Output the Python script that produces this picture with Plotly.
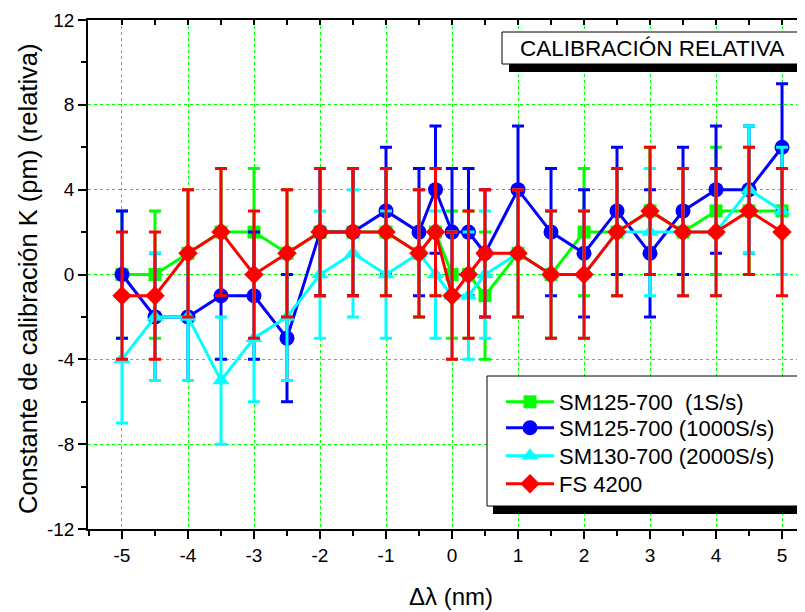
import plotly.graph_objects as go

# ---------------- data ----------------
dlambda = [-5, -4.5, -4, -3.5, -3, -2.5, -2, -1.5, -1, -0.5, -0.25, 0, 0.25, 0.5,
           1, 1.5, 2, 2.5, 3, 3.5, 4, 4.5, 5]

sm125_1 = [0, 0, 1, 2, 2, 1, 2, 2, 2, 1, 2, 0, 0, -1,
           1, 0, 2, 2, 3, 2, 3, 3, 3]
sm125_1000 = [0, -2, -2, -1, -1, -3, 2, 2, 3, 2, 4, 2, 2, 1,
              4, 2, 1, 3, 1, 3, 4, 4, 6]
sm130_2000 = [-4, -2, -2, -5, -3, -2, 0, 1, 0, 1, 0, -1, -1, 0,
              1, 0, 0, 2, 2, 2, 2, 4, 3]
fs4200 = [-1, -1, 1, 2, 0, 1, 2, 2, 2, 1, 2, -1, 0, 1,
          1, 0, 0, 2, 3, 2, 2, 3, 2]
err = 3

series_names = ["SM125-700  (1S/s)", "SM125-700 (1000S/s)",
                "SM130-700 (2000S/s)", "FS 4200"]
series_vals = [sm125_1, sm125_1000, sm130_2000, fs4200]
colors = ["#00FF00", "#0000FF", "#00FFFF", "#FF0000"]
symbols = ["square", "circle", "triangle-up", "diamond"]
msizes = [13, 15, 15, 15]

x_ticks = [-5, -4, -3, -2, -1, 0, 1, 2, 3, 4, 5]
y_ticks = [-12, -8, -4, 0, 4, 8, 12]

# ---------------- layout geometry (page pixels) ----------------
OFF = 8                      # default body margin of the html page
PAGE_W, PAGE_H = 805, 612
W, H = PAGE_W - OFF, PAGE_H - OFF
PL, PT, PB = 88, 20, 529     # plot area edges on the page
ML, MT = PL - OFF, PT - OFF
MB = H - (PB - OFF)
MR = 0
PW, PH = W - ML - MR, H - MT - MB
FONT = "Liberation Sans, Arial, sans-serif"


def px(xp):
    return (xp - PL) / PW


def py(yp):
    return (PB - yp) / PH


legend_ids = ["legend", "legend2", "legend3", "legend4"]
legend_y = [402, 428, 456, 484]

fig = go.Figure()
for name, vals, c, s, ms, lg in zip(series_names, series_vals, colors, symbols, msizes, legend_ids):
    fig.add_trace(go.Scatter(
        x=dlambda, y=vals, name=name, mode="lines+markers", legend=lg,
        line=dict(color=c, width=3),
        marker=dict(symbol=s, size=ms, color=c, line=dict(width=0)),
        error_y=dict(type="constant", value=err, color=c, thickness=3, width=6),
    ))

# invisible trace for the top axis
fig.add_trace(go.Scatter(x=[0], y=[0], xaxis="x2", mode="markers",
                         marker=dict(opacity=0), showlegend=False, hoverinfo="skip"))

xr = [-5.515, 5.348]

shapes = [
    dict(type="rect", xref="paper", yref="paper", x0=px(509), x1=px(812), y0=py(72), y1=py(40),
         fillcolor="black", line=dict(width=0), layer="above"),
    dict(type="rect", xref="paper", yref="paper", x0=px(502), x1=px(802), y0=py(64), y1=py(32),
         fillcolor="white", line=dict(color="black", width=1), layer="above"),
    dict(type="rect", xref="paper", yref="paper", x0=px(493), x1=px(830), y0=py(514), y1=py(384),
         fillcolor="black", line=dict(width=0), layer="above"),
    dict(type="rect", xref="paper", yref="paper", x0=px(487), x1=px(822), y0=py(506), y1=py(376),
         fillcolor="white", line=dict(color="black", width=1), layer="above"),
]

annotations = [
    dict(text="CALIBRACIÓN RELATIVA", xref="paper", yref="paper", x=px(652), y=py(48),
         showarrow=False, font=dict(family=FONT, size=22.5, color="black"),
         xanchor="center", yanchor="middle"),
    dict(text="Δλ (nm)", xref="paper", yref="paper", x=px(451), y=py(596),
         showarrow=False, font=dict(family=FONT, size=24, color="black"),
         xanchor="center", yanchor="middle"),
    dict(text="Constante de calibración K (pm) (relativa)", xref="paper", yref="paper",
         x=px(28), y=py(279), textangle=-90, showarrow=False,
         font=dict(family=FONT, size=25.5, color="black"),
         xanchor="center", yanchor="middle"),
]

legend_common = dict(xanchor="left", yanchor="middle", bgcolor="rgba(0,0,0,0)",
                     borderwidth=0, font=dict(family=FONT, size=22, color="black"),
                     itemwidth=48)
legends = {}
for lg, yc in zip(legend_ids, legend_y):
    legends[lg] = dict(x=px(501), y=py(yc), **legend_common)

fig.update_layout(
    width=W, height=H,
    margin=dict(l=ML, r=MR, t=MT, b=MB, autoexpand=False),
    paper_bgcolor="white", plot_bgcolor="white",
    font=dict(family=FONT, color="black"),
    showlegend=True,
    xaxis=dict(range=xr, tickmode="array", tickvals=x_ticks,
               ticktext=[str(v) for v in x_ticks],
               ticks="outside", ticklen=8, tickwidth=1.5, tickcolor="black",
               minor=dict(dtick=0.5, tick0=0, ticks="outside", ticklen=5,
                          tickwidth=1.5, tickcolor="black", showgrid=False),
               showline=True, linecolor="black", linewidth=1.5,
               showgrid=True, gridcolor="#00FF00", griddash="dot", gridwidth=1,
               zeroline=False, tickfont=dict(size=19, family=FONT, color="black")),
    xaxis2=dict(range=xr, overlaying="x", side="top", anchor="y",
                tickmode="linear", tick0=0, dtick=0.5, ticks="inside", ticklen=5,
                tickwidth=1.5, tickcolor="black", showticklabels=False,
                showline=True, linecolor="black", linewidth=1.5,
                showgrid=False, zeroline=False),
    yaxis=dict(range=[-12, 12], tickmode="array", tickvals=y_ticks,
               ticktext=[str(v) for v in y_ticks],
               ticks="outside", ticklen=8, tickwidth=1.5, tickcolor="black",
               minor=dict(dtick=2, tick0=0, ticks="outside", ticklen=5,
                          tickwidth=1.5, tickcolor="black", showgrid=False),
               showline=True, linecolor="black", linewidth=1.5,
               showgrid=True, gridcolor="#00FF00", griddash="dot", gridwidth=1,
               zeroline=False, tickfont=dict(size=19, family=FONT, color="black")),
    shapes=shapes,
    annotations=annotations,
    **legends,
)

fig.write_html("out.html")
